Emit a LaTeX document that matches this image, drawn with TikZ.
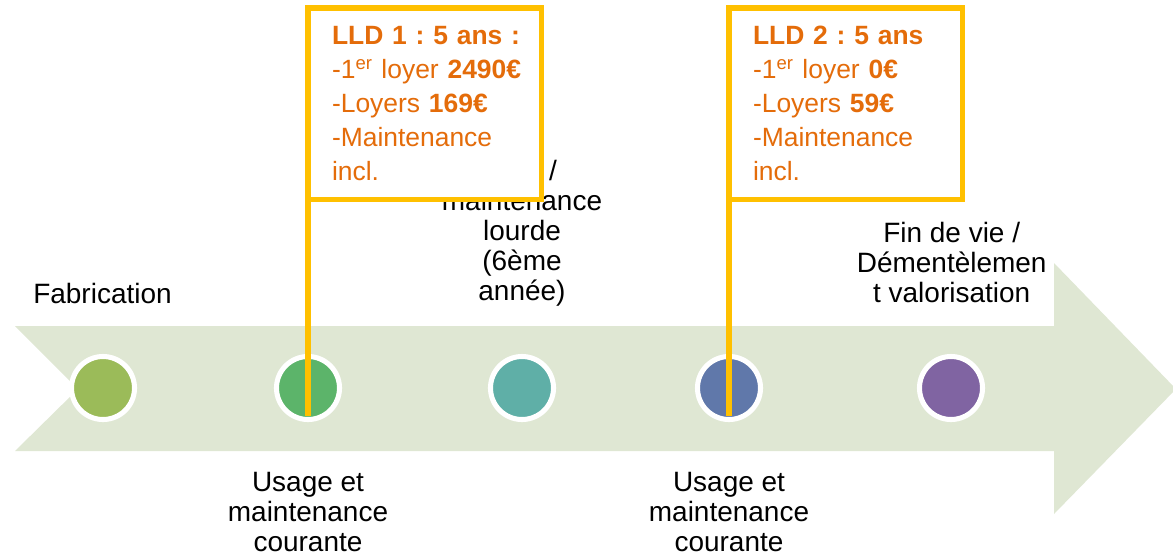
\documentclass[tikz,border=0pt]{standalone}
\usepackage{fontspec}
\setmainfont{Liberation Sans}
\frenchspacing

\definecolor{bandgreen}{HTML}{DFE7D3}
\definecolor{stageA}{HTML}{9BBB59}
\definecolor{stageB}{HTML}{5CB46A}
\definecolor{stageC}{HTML}{5FAFA7}
\definecolor{stageD}{HTML}{6078AA}
\definecolor{stageE}{HTML}{8064A2}
\definecolor{lldyellow}{HTML}{FFC000}
\definecolor{lldorange}{HTML}{E46C0A}

\tikzset{
    stage/.style={circle, draw=white, line width=3.6pt, minimum size=1.575cm, inner sep=0pt},
    steplabel/.style={inner sep=0pt, align=center, font=\fontsize{19.9pt}{21.3pt}\selectfont},
    lldbox/.style={draw=lldyellow, line width=3.6pt, fill=white, outer sep=0pt,
        text width=4.625cm, inner xsep=0.6cm, minimum height=4.775cm, align=left,
        text=lldorange, font=\fontsize{18.8pt}{24.2pt}\selectfont},
    lldline/.style={draw=lldyellow, line width=4pt, shorten >=0.15cm}
}

\begin{document}
\begin{tikzpicture}[x=0.025cm, y=-0.025cm]
    \useasboundingbox (0,0) rectangle (1173,555);

    % Define the band arrow
    \fill[bandgreen] (15,326) -- (1054,326) -- (1054,263) -- (1176,389) -- (1054,514)
        -- (1054,451) -- (15,451) -- (78,389) -- cycle;

    % Define the stages on the band
    \node[stage, fill=stageA] (c1) at (103,388) {};
    \node[stage, fill=stageB] (c2) at (308,388) {};
    \node[stage, fill=stageC] (c3) at (522,388) {};
    \node[stage, fill=stageD] (c4) at (729,388) {};
    \node[stage, fill=stageE] (c5) at (951,388) {};

    % Define the stage labels
    \node[steplabel, anchor=west] (fabtxt) at (33,293) {Fabrication};
    \node[steplabel] (usageA) at (308,512) {Usage et\\maintenance\\courante};
    \node[steplabel] (lourde) at (522,233) {\hspace*{44pt}/\\maintenance\\lourde\\(6ème\\année)};
    \node[steplabel] (usageB) at (729,512) {Usage et\\maintenance\\courante};
    \node[steplabel, fill=white, minimum width=5.1cm, minimum height=3.15cm, anchor=south east]
        (finvie) at (1054,326) {Fin de vie /\\Démentèlemen\\t valorisation};

    % Define the two leasing boxes
    \node[lldbox, anchor=north west] (lldA) at (308,8) {\mbox{\textbf{LLD 1 : 5 ans :}}\\
        \mbox{-1\textsuperscript{er} loyer \textbf{2490€}}\\-Loyers \textbf{169€}\\-Maintenance\\incl.};
    \node[lldbox, anchor=north west] (lldB) at (729,8) {\mbox{\textbf{LLD 2 : 5 ans}}\\
        \mbox{-1\textsuperscript{er} loyer \textbf{0€}}\\-Loyers \textbf{59€}\\-Maintenance\\incl.};

    % Draw the lines from the boxes down to the stages
    \draw[lldline] (lldA.south west) -- (c2.south);
    \draw[lldline] (lldB.south west) -- (c4.south);

\end{tikzpicture}
\end{document}
